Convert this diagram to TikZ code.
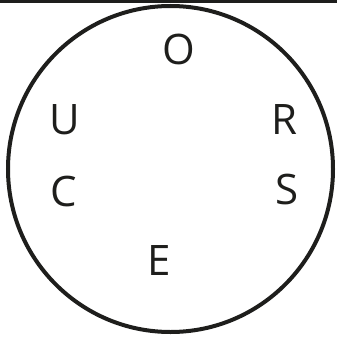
\documentclass[tikz,border=0pt]{standalone}
\usepackage{fontspec}
\setmainfont{Open Sans}
\definecolor{ink}{HTML}{1E1E1C}
\begin{document}
\begin{tikzpicture}[x=1pt,y=-1pt,
  letter/.style={inner sep=0pt,anchor=center,font=\fontsize{42}{42}\selectfont,text=ink}]
\useasboundingbox (0,0) rectangle (337,337);
\fill[ink] (0,0) rectangle (337,3);
\draw[ink,line width=4pt] (170.5,169) ellipse [x radius=162.5, y radius=163];
\node[letter] (o) at (178.5,49.5) {O};
\node[letter] (u) at (65,119.5) {U};
\node[letter] (r) at (284.5,120) {R};
\node[letter] (c) at (64,191) {C};
\node[letter] (s) at (287.5,189) {S};
\node[letter] (e) at (159,260.5) {E};
\end{tikzpicture}
\end{document}
